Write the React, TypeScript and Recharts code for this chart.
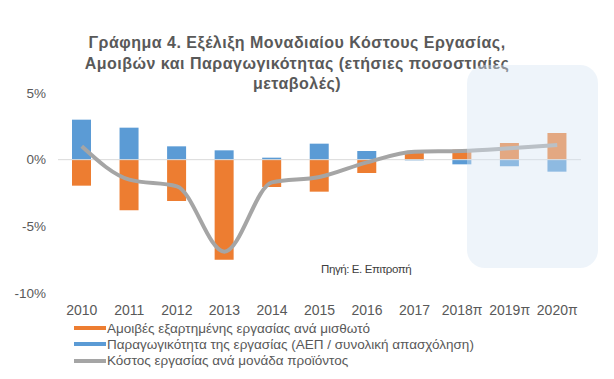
import React from "react";
import {
  ComposedChart,
  Bar,
  Line,
  XAxis,
  YAxis,
  ReferenceLine,
} from "recharts";

const years = ["2010", "2011", "2012", "2013", "2014", "2015", "2016", "2017", "2018π", "2019π", "2020π"];
const compensation = [-1.95, -3.8, -3.1, -7.5, -2.05, -2.4, -1.0, 0.6, 0.75, 1.25, 2.0];
const productivity = [3.0, 2.4, 1.0, 0.7, 0.15, 1.2, 0.65, -0.05, -0.35, -0.5, -0.9];
const unitCost = [1.0, -1.5, -2.0, -6.9, -1.7, -1.3, -0.2, 0.6, 0.65, 0.85, 1.1];
const yTicks = [-10, -5, 0, 5];

const titleLines = [
  "Γράφημα 4. Εξέλιξη Μοναδιαίου Κόστους Εργασίας,",
  "Αμοιβών και Παραγωγικότητας (ετήσιες ποσοστιαίες",
  "μεταβολές)",
];
const sourceText = "Πηγή: Ε. Επιτροπή";

const seriesNames = {
  comp: "Αμοιβές εξαρτημένης εργασίας ανά μισθωτό",
  prod: "Παραγωγικότητα της εργασίας (ΑΕΠ / συνολική απασχόληση)",
  cost: "Κόστος εργασίας ανά μονάδα προϊόντος",
};

const ORANGE = "#ED7D31";
const BLUE = "#5B9BD5";
const GRAY = "#A5A5A5";
const TEXT = "#595959";
const FONT = "'Liberation Sans', Arial, sans-serif";

const data = years.map((y, i) => ({
  year: y,
  comp: compensation[i],
  prod: productivity[i],
  cost: unitCost[i],
}));

const legendItems = [
  { name: seriesNames.comp, color: ORANGE },
  { name: seriesNames.prod, color: BLUE },
  { name: seriesNames.cost, color: GRAY },
];

export default function App() {
  return (
    <div
      style={{
        position: "absolute",
        left: 0,
        top: 0,
        width: 614,
        height: 379,
        background: "#fff",
        fontFamily: FONT,
        overflow: "hidden",
      }}
    >
      {/* Title */}
      <div
        style={{
          position: "absolute",
          left: 0,
          top: 33,
          width: 594,
          textAlign: "center",
          fontWeight: "bold",
          fontSize: 16,
          letterSpacing: 0.5,
          lineHeight: "20.5px",
          color: TEXT,
        }}
      >
        {titleLines.map((t, i) => (
          <div key={i}>{t}</div>
        ))}
      </div>

      <div style={{ position: "absolute", left: 0, top: 0 }}>
        <ComposedChart
          width={614}
          height={379}
          data={data}
          stackOffset="sign"
          margin={{ top: 93, right: 33, bottom: 56, left: 8 }}
        >
          <XAxis
            dataKey="year"
            axisLine={false}
            tickLine={false}
            tickSize={0}
            tickMargin={12}
            height={30}
            interval={0}
            tick={{ fill: TEXT, fontSize: 14, fontFamily: FONT }}
          />
          <YAxis
            domain={[-10, 5]}
            ticks={yTicks}
            width={50}
            axisLine={false}
            tickLine={false}
            tickSize={0}
            tickMargin={12}
            tickFormatter={(v: number) => `${v}%`}
            tick={{ fill: TEXT, fontSize: 13.5, fontFamily: FONT }}
          />
          <ReferenceLine y={0} stroke="#D9D9D9" strokeWidth={1} />
          <Bar dataKey="comp" stackId="a" fill={ORANGE} barSize={19} isAnimationActive={false} />
          <Bar dataKey="prod" stackId="a" fill={BLUE} barSize={19} isAnimationActive={false} />
          <Line
            dataKey="cost"
            type="monotone"
            stroke={GRAY}
            strokeWidth={4}
            dot={false}
            isAnimationActive={false}
          />
        </ComposedChart>
      </div>

      {/* Forecast highlight box */}
      <div
        style={{
          position: "absolute",
          left: 467,
          top: 65,
          width: 131,
          height: 203,
          borderRadius: 18,
          background: "rgba(214, 228, 243, 0.42)",
          pointerEvents: "none",
        }}
      />

      {/* Source */}
      <div
        style={{
          position: "absolute",
          left: 321,
          top: 263,
          fontSize: 11.5,
          letterSpacing: -0.4,
          color: "#404040",
          whiteSpace: "nowrap",
        }}
      >
        {sourceText}
      </div>

      {/* Legend */}
      <div style={{ position: "absolute", left: 74, top: 320 }}>
        {legendItems.map((it, i) => (
          <div
            key={i}
            style={{
              display: "flex",
              alignItems: "center",
              height: 16.3,
              fontSize: 13.5,
              color: TEXT,
              whiteSpace: "nowrap",
            }}
          >
            <span
              style={{
                display: "inline-block",
                width: 32,
                height: 4,
                background: it.color,
                marginRight: 1,
              }}
            />
            <span>{it.name}</span>
          </div>
        ))}
      </div>
    </div>
  );
}
